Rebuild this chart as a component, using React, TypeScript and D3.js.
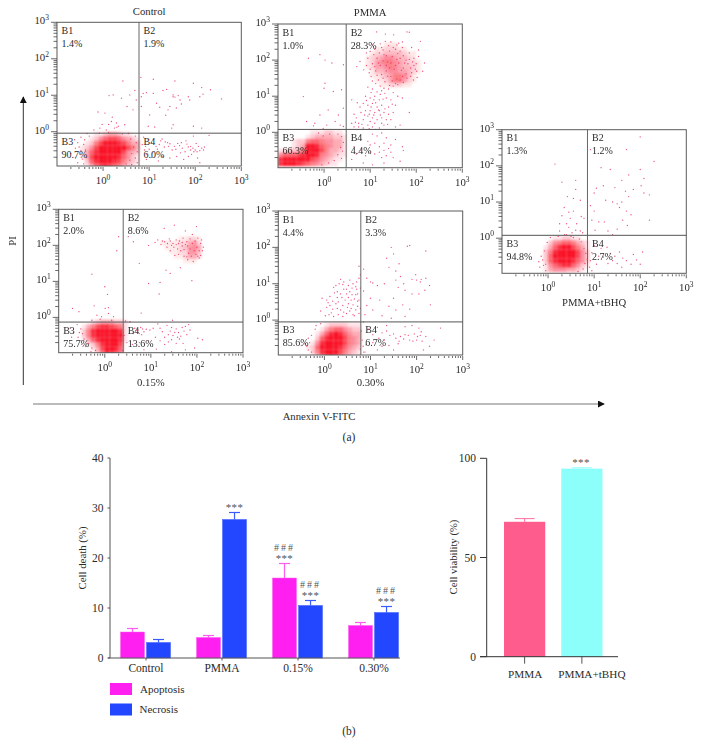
import React from "react";
import * as d3 from "d3";

// ---- flow cytometry read-offs: dots are [log10 FITC, log10 PI] pairs, density rows are digit 0-9 per cell
const controlDots = [.82,1.49,1.09,1.44,1.56,1.39,1.96,1.33,2.14,1.21,2.33,1.15,2.57,.9,1.3,1.13,1.52,1.01,1.63,.99,1.85,.96,2.1,.96,2.17,1.03,.87,1.05,.94,1.07,1.09,1.05,1.23,.67,1.45,.69,1.59,.65,1.36,.45,1.01,.46,.98,.15,1.12,.13,1.52,.19,1.49,.1,1.96,.15,2.14,.1,.83,.96,.83,.69,1.16,.78,1.67,.87,1.88,.87,1.7,.76,1.52,.96,1.56,.95,1.38,1.16,1.41,.6,.43,1.39,.69,1.13,.58,1.01,.72,.87,.4,.92,.52,.69,.22,1.01,.13,.99,-.11,.54,.04,.51,.18,.28,.29,.24,.33,.15,-.07,.1,.25,.1,.07,.05,.65,.6,.47,.19,.2,.4,.3,.12,.12,.2,-.02,.2,
1.25,-.25,1.4,-.3,1.5,-.5,1.55,-.4,1.7,-.3,1.8,-.25,1.9,-.5,1.97,-.55,2.07,-.4,2.14,-.45,2.3,-.1,1.96,-.12,1.15,-.4,.98,-.22,1.3,-.68,1.6,-.68,1.75,-.76,2.1,-.85,.94,-.76,1.08,-.58,1.33,-.42,1.45,-.33,1.62,-.32,1.72,-.45,1.85,-.42,1.95,-.45,2,-.5,2.2,-.42,1.05,-.3,1.22,-.35,.9,-.5,.85,-.35,.95,-.62,
1.28,-.2,1.35,-.28,1.42,-.4,1.58,-.48,1.66,-.38,1.78,-.55,1.82,-.34,1.9,-.4,1.92,-.62,2.04,-.55,2.02,-.32,2.1,-.52,2.18,-.5,1.18,-.48,1.1,-.2,.88,-.15,.92,-.4,1,-.48,1.05,-.7,1.2,-.8,1.45,-.72,1.68,-.58,1.85,-.68,2.05,-.72,
-.62,-.22,-.55,-.3,-.6,-.45,-.48,-.15,-.7,-.6,-.45,-.75,-.5,-.62,-.55,-.85,-.35,-.05,-.2,.05,.55,-.05,.7,-.12,-.42,-.35,-.38,-.5,-.4,-.22,-.3,-.12,-.52,-.42,-.48,-.52,-.6,-.72,-.42,-.88,.6,-.2,.72,-.3,.66,-.42,.74,-.55,.62,-.6,.7,-.72,.58,-.78,.74,-.85,.5,-.88,.62,-.9,.42,-.06,.12,-.02,-.08,-.04];
const controlDensity = ["0001123321100","0012467764321","0125799987533","1247999999753","1368999997432","1379999986421","0268999875321","0136787653210"];

const pmmaDots = [1.14,2.78,1.33,2.72,1.8,2.78,1.85,2.77,2.09,2.52,1.51,2.7,1.33,2.52,1.62,2.47,1,2.24,.78,1.96,.71,1.82,.86,1.73,2.01,1.69,2.14,1.69,1.94,1.45,2.05,2.1,1.1,2.3,1.25,2.35,1.4,2.4,1.55,2.3,1.7,2.35,1.85,2.2,1.95,2.05,2,1.9,.95,2.05,1.05,1.9,1.15,2.05,1.22,1.85,1.3,2.15,1.38,1.95,1.48,2.1,1.55,1.85,1.65,2.05,1.72,1.78,1.82,1.9,1.9,1.65,1.8,1.5,1.65,1.45,1.55,1.35,1.45,1.55,1.35,1.7,1.25,1.6,1.12,1.7,1.02,1.55,1.18,1.45,1.32,1.4,1.95,1.85,1.08,2.15,1.6,2.18,
1.2,2.2,1.28,2.28,1.35,2.12,1.42,2.25,1.5,2.35,1.58,2.42,1.65,2.25,1.72,2.12,1.78,2,1.85,2.02,1.92,1.95,1.98,1.75,1.88,1.78,1.75,1.92,1.68,1.72,1.62,1.92,1.58,2.02,1.52,1.75,1.45,1.92,1.42,1.78,1.35,1.85,1.28,1.98,1.18,1.92,1.1,1.82,1,1.75,.92,1.85,1.15,1.58,1.28,1.5,1.38,1.55,1.48,1.42,1.58,1.48,1.7,1.55,1.78,1.62,1.88,1.55,2.02,1.52,1.72,1.38,1.6,1.32,1.5,1.28,1.42,1.3,1.22,1.28,1.12,1.35,1.05,1.42,.98,1.65,.92,2.2,1.05,2.42,1.22,2.45,1.45,2.5,1.7,2.5,1.9,2.35,2.05,2.28,2.18,1.92,
.95,1.25,1.05,1.2,1.25,1.15,1.4,1.2,1.5,1.1,.9,1,1,.95,1.1,1,1.2,.9,1.35,.95,1.45,.9,1.6,1,1.7,.95,.85,.8,.95,.75,1.05,.8,1.15,.7,1.25,.75,1.4,.7,1.55,.75,.8,.55,.9,.6,1,.6,1.1,.55,1.2,.6,1.3,.55,1.4,.5,1.5,.55,1.85,.55,.65,.5,.7,.4,.85,.35,.95,.45,1.05,.4,1.15,.35,1.25,.4,1.35,.35,1.55,.15,1.65,.2,.6,.9,.6,.25,.65,.15,.75,.15,.85,.12,.95,.2,1.05,.15,1.2,.12,1.3,.2,.75,.25,1,.3,1.1,.25,1.25,.25,1.45,.35,.92,.88,1.12,.82,1.22,1.05,1.32,1.08,.78,.7,.88,.48,
1.02,1.1,1.15,1.12,1.3,1.22,1.08,.9,1.28,.92,1.18,.62,1.02,.7,.98,.5,1.08,.48,1.22,.48,1.32,.65,1.48,.78,.72,.82,.68,.28,.82,.22,.98,.1,1.12,.08,1.38,.22,
1.15,-.1,1.05,-.05,1.25,-.02,.95,-.25,1.35,-.15,1,-.35,1.1,-.3,1.2,-.4,1.3,-.3,1.45,-.35,1.55,-.2,1.4,-.45,1.3,-.5,1.2,-.55,1.1,-.6,1,-.55,.9,-.65,.8,-.5,.7,-.6,.6,-.75,.65,-.4,1.25,-.7,1.35,-.65,1.5,-.7,1.45,-.55,1.7,-.4,1.72,-.5,.85,-.85,1.05,-.9,1.3,-.85,1.65,-.8,
-.09,2.15,.02,2,.17,1.92,.42,1.87,-.34,2.05,-.45,.99,.02,1.36,0,1.22,.2,1.13,.38,1.18,.09,.62,.42,.67,.31,.48,-.09,.48,-.38,.3,-.2,.25,.06,.2,.24,.3,.35,.2,.42,.16,-.02,.11,-.23,.18,
.3,-.05,.38,-.12,.42,-.28,.36,-.42,.4,-.52,.3,-.62,.38,-.72,.22,-.78,.1,-.85,-.05,-.9,.12,-.05,-.02,-.1,-.12,-.02];
const pmmaDensity = ["000000011122110","000000123333221","000122566544331","000123998654331","112235999753321","466678998543211","899999976432110","899987654321100"];
const pmmaUpperDensity = ["0000011100000","0001122211000","0012233332110","0123455433210","0124566543221","0124456543321","0013345544321","0011234665310","0001124664210","0000112221100"];

const low15Dots = [.3,2.24,.26,1.85,-.28,1.2,0,.85,.06,.64,-.23,.32,.01,.25,.08,.27,-.7,.25,-.56,.16,-.17,.06,-.07,.02,.08,.11,.19,.02,
1.29,2.47,1.51,2.56,1.99,2.52,1.75,2.4,.62,2.1,.51,2.24,.75,1.5,.95,2,1.09,2.08,.95,.94,1.2,.97,1.18,.65,1.33,1.31,1.42,1.22,1.64,1.38,1.89,1.02,.79,.12,
1.3,2.1,1.4,2.18,1.45,2,1.5,1.95,1.55,2.15,1.6,2.05,1.65,1.85,1.7,2.2,1.72,1.7,1.78,2.1,1.8,1.6,1.85,1.9,1.9,2.3,1.92,1.55,1.98,1.75,2.02,2.2,2.08,2.05,2.12,1.85,2.14,1.95,2.05,1.65,1.68,1.98,1.35,1.95,1.22,2.02,1.15,2.15,1.52,1.72,
1.25,2.12,1.36,2.05,1.42,2.12,1.48,2.05,1.55,2.02,1.58,1.9,1.62,2.12,1.68,2.08,1.72,1.88,1.75,2.02,1.8,1.98,1.82,1.78,1.85,2.18,1.88,1.7,1.9,2.05,1.94,1.85,1.96,2.12,2,1.95,2.02,1.7,2.05,1.85,2.08,1.72,2.1,2.15,1.78,1.68,1.6,1.75,1.42,1.85,
.65,-.3,.72,-.35,.78,-.28,.85,-.4,.9,-.33,.98,-.35,1.05,-.3,1.15,-.18,1.25,-.4,1.3,-.55,1.35,-.22,1.42,-.38,1.48,-.5,1.55,-.32,1.6,-.42,1.68,-.28,1.75,-.25,1.82,-.2,1.62,-.6,1.45,-.62,1.3,-.75,1.1,-.55,.95,-.65,.75,-.7,.6,-.75,2.02,-.58,2.12,-.62,1.95,-.85,1.75,-.9,1.45,-.95,1.12,-.88,.85,-.9,1.47,-.08,.55,-.12,.45,-.1,
.7,-.42,.75,-.45,.68,-.36,.82,-.32,.8,-.48,.62,-.45,1.2,-.3,1.38,-.48,1.45,-.28,1.52,-.42,1.58,-.55,1.65,-.52,1.72,-.38,1.78,-.48,1.38,-.68,1.2,-.65,1.55,-.72,1.7,-.72,1.85,-.35,
-.75,-.3,-.68,-.42,-.6,-.2,-.58,-.55,-.72,-.55,-.5,-.75,-.42,-.8,-.3,-.95,.42,-.5,.48,-.7,-.52,-.32,-.48,-.45,-.55,-.42,-.45,-.6,-.35,-.72,-.28,-.85,-.2,-.92,.38,-.92,.15,-.08,-.1,-.05,-.28,-.08];
const low15Density = ["0012333221","1357887651","2589999981","2589999991","1368999981","0125899970","0013799860","0002587640"];
const low15UpperDensity = ["0000000000","0000112210","1111224520","0111235640","0011225530","0001124420","0000011100"];

const high30Dots = [-.08,.25,.05,.35,.15,.2,.3,.15,.4,.1,.55,.25,.65,.12,.75,.18,-.05,.6,.05,.55,.12,.65,.22,.75,.3,.5,.38,.62,.48,.72,.58,.55,.68,.7,.75,.55,.12,.4,.25,.45,.4,.4,.5,.35,.62,.42,.72,.38,.25,.95,.32,1,.42,1.05,.52,.95,.6,.88,.7,1.05,.75,1.15,.78,1.25,.55,1.1,.35,1.12,.48,.85,.28,.78,.75,1.48,.78,.88,.7,.85,
.1,.15,.18,.3,.2,.1,.28,.32,.35,.28,.42,.22,.48,.18,.52,.45,.58,.32,.62,.15,.68,.28,.72,.52,.78,.32,.02,.12,.08,.48,.18,.52,.28,.62,.35,.72,.45,.55,.52,.62,.6,.7,.65,.58,.72,.72,.42,.85,.55,.78,.62,1,.68,.92,.4,.98,.2,.9,
.85,1.4,.92,1.15,1,1.05,1.05,1.02,1.15,.95,1.3,1,1.4,1.45,1.55,1.35,1.65,1.2,1.55,1.1,1.6,.9,1.72,1,1.75,.82,1.9,.72,2,1.1,2.1,1.12,2.2,1.15,2.08,1.05,2.28,.95,2.18,.82,1.35,1.7,1.5,1.82,1.62,1.55,1.9,1.12,1.98,1.25,1.45,2,1.8,2.03,1.85,2.05,2.2,1.9,.85,.8,1,.6,1.2,.55,1.4,.38,1.5,.6,1.55,.28,1.7,.42,2.05,.72,1.85,.3,2.3,.42,.88,.15,1.05,.28,1.25,.12,1.45,.05,1.75,.1,.92,.4,
.95,-.25,1.05,-.4,1.15,-.2,1.25,-.35,1.35,-.3,1.42,-.42,1.55,-.5,1.65,-.45,1.75,-.4,1.85,-.55,1.95,-.38,2.05,-.22,2.1,-.32,2,-.55,2.2,-.45,2.38,-.55,2.52,-.22,2.28,-.72,1.6,-.65,1.4,-.7,1.25,-.72,1.05,-.62,.9,-.68,.88,-.88,1.15,-.82,1.5,-.82,2.15,-.82,1.35,-.15,1.75,-.18,1.9,-.15,
1.62,-.58,1.72,-.52,1.82,-.42,1.92,-.58,2.02,-.45,2.12,-.58,2.08,-.42,1.5,-.38,1.3,-.55,1.18,-.5,
-.42,-.65,-.5,-.7,-.35,-.82,-.28,-.42,-.35,-.5,-.2,-.25,-.08,-.1,.85,-.05,-.32,-.62,-.38,-.72,-.28,-.88,-.18,-.15,.8,-.3,.82,-.55,.84,-.72,.85,-.88,.78,-.8];
const high30Density = ["000012222111","000135664322","001368986433","002689997543","014899997543","126999986432","025899975321","002578753211"];

const tbhqDots = [.15,2.05,.3,1.55,.6,1.35,.6,1.6,.42,1.15,.55,1.1,.7,1.05,.35,.85,.45,.72,.3,.62,.48,.55,.55,.75,.62,.4,.78,.55,.72,.6,.4,.4,.45,.3,.6,.22,.52,.15,.7,.2,.75,.15,.25,.2,.36,.1,.5,.05,.25,.4,
2,2.8,1.7,2.45,.92,2.45,2.3,2.12,1.15,1.95,1.35,1.9,2,1.9,1.75,1.75,2.08,1.65,1.6,1.6,1.2,1.45,1.05,1.38,1,1.25,1.45,1.4,1.68,1.3,1.75,1.15,1.85,1.35,2.02,1.45,2.08,1.25,2.2,1.2,1.25,1.05,1.4,1,1.5,.95,1.6,1,1.55,.85,1.7,.75,1.8,.65,1.62,.5,2.2,.5,.92,.9,1,.75,1.1,.45,1.22,.45,1.3,.2,1.4,.1,1.5,.25,1.72,.35,.95,.5,1.02,.22,
1.35,-.42,1.45,-.5,1.55,-.38,1.62,-.55,1.7,-.62,1.8,-.72,1.92,-.6,1.5,-.7,1.4,-.62,1.3,-.7,1.2,-.52,1.1,-.5,1.05,-.72,1.6,-.8,2.05,-.38,2,-.72,.95,-.4,.92,-.62,1,-.2,1.15,-.28,1.28,-.25,1.85,-.45,
-.15,-.5,-.2,-.65,-.1,-.75,-.18,-.8,-.05,-.9,.85,-.1,.72,-.1,.78,-.28,.82,-.42,.85,-.58,.8,-.7,.76,-.85,.65,-.92,-.08,-.35,-.02,-.12,.05,.02,.22,.05,.4,.1,.55,.02,.68,-.02,-.12,-.6,-.05,-.72,.9,-.8,.95,-.9];
const tbhqDensity = ["0011221100","0245665321","1368997531","2589999742","2699999742","2689998642","1467886421","1344433210"];

const panelTitles = ["Control", "PMMA", "0.15%", "0.30%", "PMMA+tBHQ"];
const quadrantNames = ["B1", "B2", "B3", "B4"];
const controlPercents = ["1.4%", "1.9%", "90.7%", "6.0%"];
const pmmaPercents = ["1.0%", "28.3%", "66.3%", "4.4%"];
const low15Percents = ["2.0%", "8.6%", "75.7%", "13.6%"];
const high30Percents = ["4.4%", "3.3%", "85.6%", "6.7%"];
const tbhqPercents = ["1.3%", "1.2%", "94.8%", "2.7%"];

// ---- bar charts
const deathCategories = ["Control", "PMMA", "0.15%", "0.30%"];
const apoptosis = [5.2, 4.1, 16, 6.5];
const apoptosisErr = [5.9, 4.5, 18.9, 7.1];
const necrosis = [3.1, 27.7, 10.5, 9.1];
const necrosisErr = [3.7, 29.1, 11.5, 10.3];
const apoptosisMarks = [[], [], ["***", "###"], []];
const necrosisMarks = [[], ["***"], ["***", "###"], ["***", "###"]];
const deathTicks = [0, 10, 20, 30, 40];
const viabilityCategories = ["PMMA", "PMMA+tBHQ"];
const viability = [68, 94.8];
const viabilityErr = [69.6, 95.2];
const viabilityTicks = [0, 50, 100];

const SERIF = "'Liberation Serif', serif";
const INK = "#2b2b2b";
const AXIS = "#555";

type Grid = { lx: number; ly: number; rows: string[]; max?: number };
type P = {
  id: string; x0: number; x1: number; y0: number; y1: number; yMinLog: number;
  gateX: number; gateY: number; title: string; titleY: number; percents: string[]; dots: number[]; grids: Grid[];
};

function Sup({ x, y, k, anchor }: any) {
  return (
    <text x={x} y={y} textAnchor={anchor} fontSize={10.8} fontFamily={SERIF} fill={INK}>
      10<tspan fontSize={7.5} dy={-4}>{k}</tspan>
    </text>
  );
}

function Flow(p: P) {
  const x = d3.scaleLog().domain([0.1, 1000]).range([p.x0, p.x1]);
  const y = d3.scaleLog().domain([Math.pow(10, p.yMinLog), 1000]).range([p.y1, p.y0]);
  const dots = d3.range(0, p.dots.length, 2).map((i) => [p.dots[i], p.dots[i + 1]]);
  const isMajor = (v: number) => Math.abs(Math.log10(v) - Math.round(Math.log10(v))) < 1e-6;
  const gx = x(p.gateX), gy = y(p.gateY);
  return (
    <g>
      <clipPath id={p.id}><rect x={p.x0} y={p.y0} width={p.x1 - p.x0} height={p.y1 - p.y0} /></clipPath>
      <g clipPath={`url(#${p.id})`}>
        <g filter="url(#soft)">
          {p.grids.map((g, gi) =>
            g.rows.map((row, r) =>
              row.split("").map((c, i) => {
                const xa = x(Math.pow(10, g.lx + i * 0.1));
                const xb = x(Math.pow(10, g.lx + (i + 1) * 0.1));
                const ya = y(Math.pow(10, g.ly - r * 0.125));
                const yb = y(Math.pow(10, g.ly - (r + 1) * 0.125));
                return +c > 0 ? (
                  <rect key={`${gi}-${r}-${i}`} x={xa} y={ya} width={xb - xa} height={yb - ya}
                    fill="#f90d22" opacity={(+c / 9) * (g.max ?? 1)} />
                ) : null;
              })
            )
          )}
        </g>
        {dots.map((d, i) => (
          <circle key={i} cx={x(Math.pow(10, d[0]))} cy={y(Math.pow(10, d[1]))} r={0.68} fill="#ea2a5c" opacity={0.8} />
        ))}
      </g>
      <rect x={p.x0} y={p.y0} width={p.x1 - p.x0} height={p.y1 - p.y0} fill="none" stroke="#5a5a5a" strokeWidth={1} />
      <line x1={gx} x2={gx} y1={p.y0} y2={p.y1} stroke="#666" strokeWidth={1} />
      <line x1={p.x0} x2={p.x1} y1={gy} y2={gy} stroke="#555" strokeWidth={1} />
      {x.ticks().filter((v) => v > 0.15).map((v, i) => (
        <line key={i} x1={x(v)} x2={x(v)} y1={p.y1 + 1} y2={p.y1 + (isMajor(v) ? 5 : 3)} stroke="#444" strokeWidth={0.8} />
      ))}
      {y.ticks().map((v, i) => (
        <line key={i} y1={y(v)} y2={y(v)} x1={p.x0 - (isMajor(v) ? 6 : 3.5)} x2={p.x0} stroke="#444" strokeWidth={0.8} />
      ))}
      {[0, 1, 2, 3].map((k) => (
        <React.Fragment key={k}>
          <Sup x={x(Math.pow(10, k))} y={p.y1 + 18} k={k} anchor="middle" />
          <Sup x={p.x0 - 8} y={y(Math.pow(10, k)) + 2} k={k} anchor="end" />
        </React.Fragment>
      ))}
      {quadrantNames.map((q, i) => {
        const tx = (i % 2 ? gx : p.x0) + 4.5;
        const ty = i < 2 ? p.y0 + 11.5 : gy + 11.5;
        return (
          <g key={q} fontFamily={SERIF} fontSize={10} fill={INK}>
            <text x={tx} y={ty}>{q}</text>
            <text x={tx} y={ty + 13}>{p.percents[i]}</text>
          </g>
        );
      })}
      <text x={x(10)} y={p.titleY} textAnchor="middle" fontFamily={SERIF} fontSize={10.7} fill={INK}>{p.title}</text>
    </g>
  );
}

function DeathChart() {
  const x = d3.scaleBand<string>().domain(deathCategories).range([107.5, 411.5]);
  const sub = d3.scaleBand<string>().domain(["a", "n"]).range([13, 63]).paddingInner(0.08).paddingOuter(0);
  const y = d3.scaleLinear().domain([0, 40]).range([658, 458]);
  const x0 = 110;
  const series = [
    { k: "a", vals: apoptosis, errs: apoptosisErr, marks: apoptosisMarks, c: "#ff1ff0", e: "#ff5cf2" },
    { k: "n", vals: necrosis, errs: necrosisErr, marks: necrosisMarks, c: "#2346ff", e: "#3a5bff" },
  ];
  return (
    <g fontFamily={SERIF} fill={INK}>
      {series.map((s) =>
        deathCategories.map((c, i) => {
          const bx = (x(c) as number) + (sub(s.k) as number);
          const bw = sub.bandwidth();
          const cx = bx + bw / 2;
          return (
            <g key={s.k + c}>
              <line x1={cx} x2={cx} y1={y(s.vals[i])} y2={y(s.errs[i])} stroke={s.e} strokeWidth={1.2} />
              <line x1={cx - 5.5} x2={cx + 5.5} y1={y(s.errs[i])} y2={y(s.errs[i])} stroke={s.e} strokeWidth={1.2} />
              <rect x={bx} y={y(s.vals[i])} width={bw} height={y(0) - y(s.vals[i])} fill={s.c} stroke={s.e} strokeWidth={0.5} />
              {s.marks[i].map((m: string, j: number) => (
                <text key={j} x={cx} y={y(s.errs[i]) - (j ? 12.5 : 1.5)} textAnchor="middle"
                  fontSize={m === "***" ? 11 : 10} fill="#555" letterSpacing={m === "###" ? 2 : 0.3}>{m}</text>
              ))}
            </g>
          );
        })
      )}
      <line x1={x0} x2={x0} y1={y(40)} y2={y(0)} stroke={AXIS} strokeWidth={1} />
      <line x1={x0 - 2} x2={400} y1={y(0)} y2={y(0)} stroke={AXIS} strokeWidth={1} />
      {deathTicks.map((t) => (
        <g key={t}>
          <line x1={x0 - 2.5} x2={x0} y1={y(t)} y2={y(t)} stroke={AXIS} />
          <text x={103.5} y={y(t) + 4} textAnchor="end" fontSize={11.5}>{t}</text>
        </g>
      ))}
      {deathCategories.map((c) => {
        const cx = (x(c) as number) + x.bandwidth() / 2 + 0.5;
        return (
          <g key={c}>
            <line x1={cx} x2={cx} y1={y(0)} y2={y(0) + 2.5} stroke={AXIS} />
            <text x={cx} y={y(0) + 14} textAnchor="middle" fontSize={11.5}>{c}</text>
          </g>
        );
      })}
      <text transform={`translate(85.5,558) rotate(-90)`} textAnchor="middle" fontSize={10.8}>Cell death (%)</text>
      <rect x={110} y={683} width={22} height={12} fill="#ff1ff0" />
      <text x={140} y={692.5} fontSize={11}>Apoptosis</text>
      <rect x={110} y={703.5} width={22} height={12} fill="#2346ff" />
      <text x={139.5} y={712.5} fontSize={11}>Necrosis</text>
    </g>
  );
}

function ViabilityChart() {
  const x = d3.scaleBand<string>().domain(viabilityCategories).range([496, 610.5]).paddingInner(0.28).paddingOuter(0.14);
  const y = d3.scaleLinear().domain([0, 100]).range([656.7, 458.3]);
  const colors = ["#ff5c8e", "#8cfffb"];
  const errColors = ["#ff6d9b", "#8cfffb"];
  return (
    <g fontFamily={SERIF} fill={INK}>
      {viabilityCategories.map((c, i) => {
        const bx = x(c) as number;
        const cx = bx + x.bandwidth() / 2;
        return (
          <g key={c}>
            <line x1={cx} x2={cx} y1={y(viability[i])} y2={y(viabilityErr[i])} stroke={errColors[i]} strokeWidth={1} />
            <line x1={cx - 10} x2={cx + 10} y1={y(viabilityErr[i])} y2={y(viabilityErr[i])} stroke={errColors[i]} strokeWidth={1} />
            <rect x={bx} y={y(viability[i])} width={x.bandwidth()} height={y(0) - y(viability[i])} fill={colors[i]} />
            <line x1={cx} x2={cx} y1={y(0)} y2={y(0) + 7} stroke="#555" />
            <text x={cx + (i ? 10 : 0.5)} y={y(0) + 21} textAnchor="middle" fontSize={11.2}>{c}</text>
          </g>
        );
      })}
      <text x={581} y={y(viabilityErr[1]) - 1.5} textAnchor="middle" fontSize={11} fill="#555" letterSpacing={0.3}>***</text>
      <line x1={486.7} x2={486.7} y1={y(100)} y2={y(0)} stroke="#333" />
      <line x1={480} x2={618} y1={y(0)} y2={y(0)} stroke="#333" />
      {viabilityTicks.map((t) => (
        <g key={t}>
          <line x1={480} x2={486.7} y1={y(t)} y2={y(t)} stroke="#333" />
          <text x={476} y={y(t) + 4} textAnchor="end" fontSize={11.5}>{t}</text>
        </g>
      ))}
      <text transform="translate(457,557) rotate(-90)" textAnchor="middle" fontSize={10.7}>Cell viability (%)</text>
    </g>
  );
}

export default function App() {
  const panels: P[] = [
    { id: "p1", x0: 57, x1: 241.3, y0: 22.3, y1: 166, yMinLog: -0.94, gateX: Math.pow(10, 0.78), gateY: Math.pow(10, -0.04), title: panelTitles[0], titleY: 15, percents: controlPercents, dots: controlDots,
      grids: [{ lx: -0.5, ly: 0, rows: controlDensity }] },
    { id: "p2", x0: 278, x1: 462.3, y0: 24, y1: 167.7, yMinLog: -0.98, gateX: Math.pow(10, 0.48), gateY: Math.pow(10, 0.08), title: panelTitles[1], titleY: 15.5, percents: pmmaPercents, dots: pmmaDots,
      grids: [{ lx: -1, ly: 0.0625, rows: pmmaDensity }, { lx: 0.8, ly: 2.5, rows: pmmaUpperDensity, max: 0.85 }] },
    { id: "p3", x0: 58.7, x1: 243, y0: 209.3, y1: 352.7, yMinLog: -0.98, gateX: Math.pow(10, 0.4), gateY: Math.pow(10, -0.13), title: panelTitles[2], titleY: 385.5, percents: low15Percents, dots: low15Dots,
      grids: [{ lx: -0.5, ly: -0.0625, rows: low15Density }, { lx: 1.2, ly: 2.375, rows: low15UpperDensity, max: 0.75 }] },
    { id: "p4", x0: 278.3, x1: 462.7, y0: 211, y1: 355, yMinLog: -0.96, gateX: Math.pow(10, 0.79), gateY: Math.pow(10, -0.05), title: panelTitles[3], titleY: 385.5, percents: high30Percents, dots: high30Dots,
      grids: [{ lx: -0.4, ly: -0.0625, rows: high30Density }] },
    { id: "p5", x0: 502, x1: 686.3, y0: 129.7, y1: 273.3, yMinLog: -0.97, gateX: Math.pow(10, 0.855), gateY: Math.pow(10, 0.08), title: panelTitles[4], titleY: 305.5, percents: tbhqPercents, dots: tbhqDots,
      grids: [{ lx: -0.1, ly: 0.0625, rows: tbhqDensity }] },
  ];
  return (
    <svg width={702} height={753} style={{ position: "absolute", left: 0, top: 0, background: "#fff" }}>
      <defs>
        <filter id="soft" x="-10%" y="-10%" width="120%" height="120%"><feGaussianBlur stdDeviation="1.1" /></filter>
        <marker id="arrow" viewBox="0 0 8 8" refX="7" refY="4" markerWidth="7" markerHeight="7" orient="auto-start-reverse" markerUnits="userSpaceOnUse">
          <path d="M0,0 L8,4 L0,8 Z" fill="#111" />
        </marker>
      </defs>
      {panels.map((p) => <Flow key={p.id} {...p} />)}
      <line x1={23.3} x2={23.3} y1={385} y2={97} stroke="#333" strokeWidth={1} markerEnd="url(#arrow)" />
      <line x1={33} x2={604} y1={404} y2={404} stroke="#777" strokeWidth={1} markerEnd="url(#arrow)" />
      <text transform="translate(16,241) rotate(-90)" textAnchor="middle" fontFamily={SERIF} fontSize={10.7} fill={INK}>PI</text>
      <text x={319} y={420} textAnchor="middle" fontFamily={SERIF} fontSize={10.7} fill={INK}>Annexin V-FITC</text>
      <text x={349} y={441} textAnchor="middle" fontFamily={SERIF} fontSize={11.5} fill={INK}>(a)</text>
      <text x={349} y={735} textAnchor="middle" fontFamily={SERIF} fontSize={11.5} fill={INK}>(b)</text>
      <DeathChart />
      <ViabilityChart />
    </svg>
  );
}
